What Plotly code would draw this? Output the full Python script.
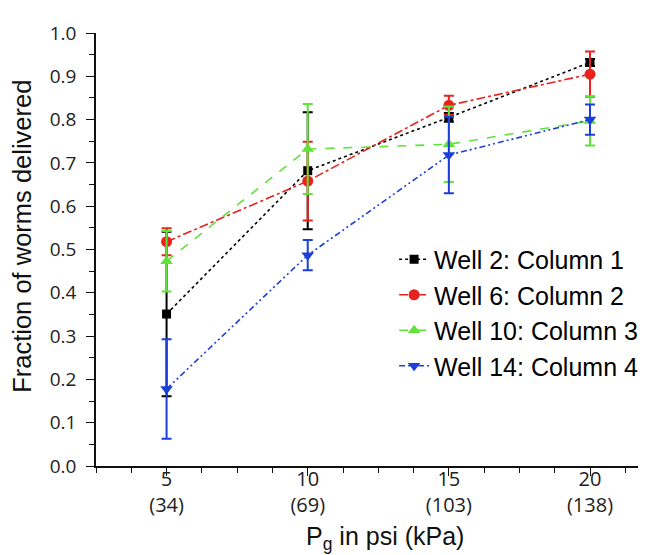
import plotly.graph_objects as go

psi = [5, 10, 15, 20]
tick_text = ["5<br>(34)", "10<br>(69)", "15<br>(103)", "20<br>(138)"]

names = ["Well 2: Column 1", "Well 6: Column 2", "Well 10: Column 3", "Well 14: Column 4"]
well2 = [0.351, 0.682, 0.805, 0.932]
well2_err = [0.19, 0.135, 0.01, 0.008]
well6 = [0.518, 0.658, 0.833, 0.905]
well6_err = [0.031, 0.091, 0.022, 0.052]
well10 = [0.473, 0.732, 0.743, 0.797]
well10_err = [0.07, 0.104, 0.087, 0.057]
well14 = [0.178, 0.487, 0.718, 0.800]
well14_err = [0.115, 0.035, 0.088, 0.035]

x_title = "P<sub>g</sub> in psi (kPa)"
y_title = "Fraction of worms delivered"

series = [
    (names[0], well2, well2_err, "#000000", "dot", "square", 9),
    (names[1], well6, well6_err, "#e8231e", "dashdot", "circle", 11),
    (names[2], well10, well10_err, "#5fe33a", "dash", "triangle-up", 11),
    (names[3], well14, well14_err, "#1c3fd9", "6px,3px,2px,3px,2px,3px", "triangle-down", 11),
]

fig = go.Figure()
for name, vals, err, color, dash, sym, size in series:
    fig.add_trace(go.Scatter(
        x=psi, y=vals, name=name, mode="lines+markers",
        line=dict(color=color, width=1.6, dash=dash),
        marker=dict(symbol=sym, size=size, color=color),
        error_y=dict(type="data", array=err, visible=True, color=color,
                     thickness=2, width=5),
    ))

fig.update_layout(
    width=653, height=555,
    margin=dict(l=88, r=23, t=14, b=97),
    paper_bgcolor="white", plot_bgcolor="white",
    showlegend=True,
    legend=dict(x=0.55, y=0.53, xanchor="left", yanchor="top",
                font=dict(family="Liberation Sans, Arial", size=25, color="#000"),
                bgcolor="rgba(0,0,0,0)", tracegroupgap=0),
    font=dict(family="Liberation Sans, Arial", color="#000"),
    annotations=[
        dict(text=x_title, xref="paper", yref="paper",
             x=(377 - 88) / 542, y=-(532 - 458) / 444, xanchor="center", yanchor="middle",
             showarrow=False, font=dict(size=25, family="Liberation Sans, Arial", color="#111")),
        dict(text=y_title, xref="paper", yref="paper", textangle=-90,
             x=(14 - 88) / 542, y=(458 - 223) / 444, xanchor="center", yanchor="middle",
             showarrow=False, font=dict(size=25.5, family="Liberation Sans, Arial", color="#111")),
    ],
)

fig.update_xaxes(
    range=[2.5, 21.7], tickmode="array", tickvals=psi, ticktext=tick_text,
    showline=True, linecolor="#111", linewidth=1.5, showgrid=False, zeroline=False,
    ticks="outside", ticklen=8, tickwidth=1.3, tickcolor="#111",
    tickfont=dict(family="Open Sans", size=20, color="#222"),
    ticklabelstandoff=-14,
    minor=dict(tick0=0, dtick=1.25, ticks="outside", ticklen=5, tickwidth=1.3, tickcolor="#111"),
)
fig.update_yaxes(
    range=[0, 1.0], tickmode="linear", tick0=0, dtick=0.1, tickformat=".1f",
    showline=True, linecolor="#111", linewidth=1.5, showgrid=False, zeroline=False,
    ticks="outside", ticklen=8, tickwidth=1.3, tickcolor="#111",
    tickfont=dict(family="Open Sans", size=19, color="#222"),
    ticklabelstandoff=6,
    minor=dict(dtick=0.05, ticks="outside", ticklen=5, tickwidth=1.3, tickcolor="#111"),
)

fig.write_html("out.html")
